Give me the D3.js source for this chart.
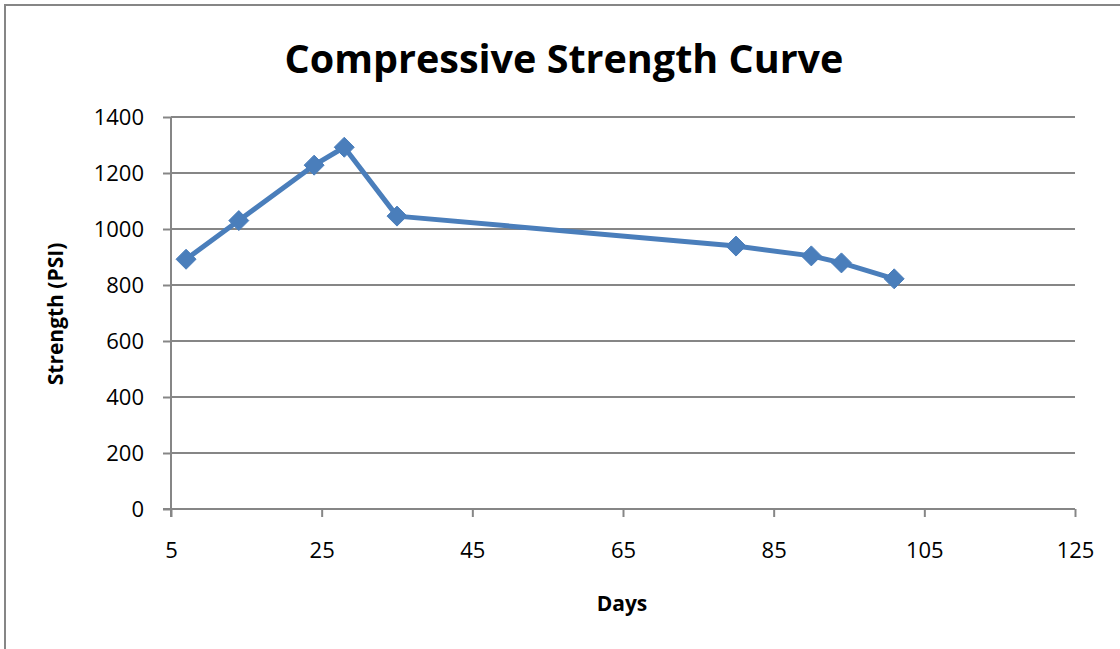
<!DOCTYPE html>
<html>
<head>
<meta charset="utf-8">
<script src="https://cdn.jsdelivr.net/npm/d3@7"></script>
<style>
  html, body { margin: 0; padding: 0; background: #fff; }
  svg { display: block; }
  text { font-family: "Open Sans", "Liberation Sans", sans-serif; fill: #000; }
</style>
</head>
<body>
<svg id="chart" width="1120" height="649"></svg>
<script>
// Compressive strength test results over curing time
const days     = [7, 14, 24, 28, 35, 80, 90, 94, 101];
const strength = [892, 1030, 1228, 1292, 1046, 939, 904, 879, 822];
const xTicks   = [5, 25, 45, 65, 85, 105, 125];
const yTicks   = [0, 200, 400, 600, 800, 1000, 1200, 1400];

const W = 1120, H = 649;
const plot = { left: 171, right: 1075, top: 117, bottom: 509 };
const gridColor = "#868686";
const seriesColor = "#4a7ebb";

const svg = d3.select("#chart");

const x = d3.scaleLinear().domain([5, 125]).range([plot.left, plot.right]);
const y = d3.scaleLinear().domain([0, 1400]).range([plot.bottom, plot.top]);

// outer chart frame (top and left edges visible)
svg.append("path")
  .attr("d", `M5,${H} L5,5 L${W},5`)
  .attr("fill", "none")
  .attr("stroke", gridColor)
  .attr("stroke-width", 2);

// horizontal gridlines
svg.append("g")
  .selectAll("line")
  .data(yTicks.filter(d => d > 0))
  .join("line")
  .attr("x1", plot.left).attr("x2", plot.right)
  .attr("y1", d => y(d)).attr("y2", d => y(d))
  .attr("stroke", gridColor).attr("stroke-width", 2);

// y axis
const yAxis = svg.append("g")
  .attr("transform", `translate(${plot.left},0)`)
  .call(d3.axisLeft(y).tickValues(yTicks).tickFormat(d3.format("d"))
    .tickSize(8).tickPadding(19).tickSizeOuter(0));
yAxis.select(".domain").attr("stroke", gridColor).attr("stroke-width", 2)
  .attr("d", `M0,${plot.bottom + 8}V${plot.top}`);
yAxis.selectAll(".tick line").attr("stroke", gridColor).attr("stroke-width", 2);
yAxis.selectAll(".tick text")
  .style("font-family", "'Open Sans', sans-serif")
  .style("font-size", "22px").attr("fill", "#000").attr("dy", "0.35em");

// x axis
const xAxis = svg.append("g")
  .attr("transform", `translate(0,${plot.bottom})`)
  .call(d3.axisBottom(x).tickValues(xTicks).tickFormat(d3.format("d"))
    .tickSize(8).tickPadding(25).tickSizeOuter(0));
xAxis.select(".domain").attr("stroke", gridColor).attr("stroke-width", 2)
  .attr("d", `M${plot.left - 8},0H${plot.right}`);
xAxis.selectAll(".tick line").attr("stroke", gridColor).attr("stroke-width", 2);
xAxis.selectAll(".tick text")
  .style("font-family", "'Open Sans', sans-serif")
  .style("font-size", "22px").attr("fill", "#000");

// series line
svg.append("path")
  .datum(days.map((d, i) => [d, strength[i]]))
  .attr("fill", "none")
  .attr("stroke", seriesColor)
  .attr("stroke-width", 5)
  .attr("stroke-linejoin", "round")
  .attr("d", d3.line().x(d => x(d[0])).y(d => y(d[1])));

// diamond markers
svg.append("g")
  .selectAll("path")
  .data(days.map((d, i) => [d, strength[i]]))
  .join("path")
  .attr("transform", d => `translate(${x(d[0])},${y(d[1])})`)
  .attr("d", "M0,-10 L10,0 L0,10 L-10,0 Z")
  .attr("fill", seriesColor)
  .attr("stroke", seriesColor)
  .attr("stroke-width", 1);

// title
svg.append("text")
  .attr("x", 564).attr("y", 73)
  .attr("text-anchor", "middle")
  .style("font-size", "39.5px").style("font-weight", "bold")
  .text("Compressive Strength Curve");

// axis titles
svg.append("text")
  .attr("x", 622).attr("y", 611)
  .attr("text-anchor", "middle")
  .style("font-size", "21px").style("font-weight", "bold")
  .text("Days");

svg.append("text")
  .attr("transform", "translate(63,314) rotate(-90)")
  .attr("text-anchor", "middle")
  .style("font-size", "21px").style("font-weight", "bold")
  .text("Strength (PSI)");
</script>
</body>
</html>
